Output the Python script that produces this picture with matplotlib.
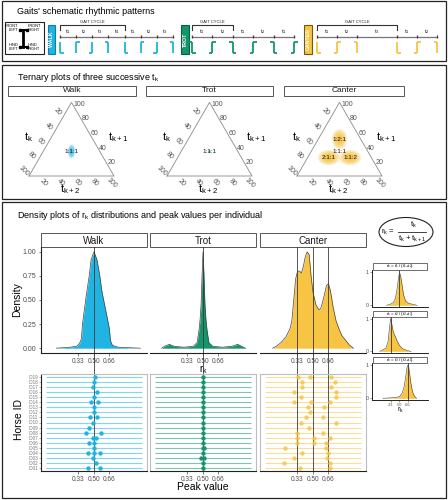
import matplotlib
matplotlib.use("Agg")
import matplotlib.pyplot as plt
from matplotlib.patches import Rectangle, Ellipse
import numpy as np

plt.rcParams["font.family"] = ["Liberation Sans", "DejaVu Sans"]
plt.rcParams["mathtext.default"] = "regular"

W, H = 448, 500

walk_col = "#1FB4E2"
trot_col = "#13966C"
canter_col = "#F7C444"
dark = "#3A3A3A"
grey_txt = "#4D4D4D"

# ---------------- data ----------------
gaits = ["Walk", "Trot", "Canter"]
gait_cols = [walk_col, trot_col, canter_col]

# schematic: interval durations (arbitrary units), labels, footfalls at each boundary
walk_durations = [1, 1, 1, 1, 1, 1, 1]
walk_labels = ["1", "2", "3", "4", "1", "2", "3"]
walk_feet = ["LH", "LF", "RH", "RF", "LH", "LF", "RH", "RF"]
walk_cycle = 4

trot_durations = [1, 1, 1, 1, 1]
trot_labels = ["1", "2", "1", "2", "1"]
trot_feet = ["LH+RF", "RH+LF", "LH+RF", "RH+LF", "LH+RF", "RH+LF"]
trot_cycle = 2

canter_durations = [1, 1, 2, 1, 1]
canter_labels = ["1", "2", "3", "1", "2"]
canter_feet = ["LH", "RH+LF", "RF", "LH", "RH+LF", "RF"]
canter_cycle = 4

# ternary plots: peak compositions (t_k : t_k+1 : t_k+2)
tern_ticks = [20, 40, 60, 80, 100]
walk_tern_peaks = [(1, 1, 1)]
trot_tern_peaks = [(1, 1, 1)]
canter_tern_peaks = [(1, 2, 1), (2, 1, 1), (1, 1, 2)]
walk_tern_labels = [((1, 1, 1), "1:1:1")]
trot_tern_labels = [((1, 1, 1), "1:1:1")]
canter_tern_labels = [((1, 2, 1), "1:2:1"), ((1, 1, 1), "1:1:1"),
                      ((2, 1, 1), "2:1:1"), ((1, 1, 2), "1:1:2")]

# density of r_k (scaled to max 1)
walk_r = [0.11, 0.25, 0.32, 0.35, 0.37, 0.38, 0.40, 0.42, 0.45, 0.47, 0.50, 0.53,
          0.56, 0.58, 0.60, 0.62, 0.64, 0.66, 0.67, 0.69, 0.75, 0.98]
walk_d = [0.00, 0.01, 0.02, 0.05, 0.10, 0.25, 0.40, 0.55, 0.75, 0.92, 1.00, 0.92,
          0.75, 0.60, 0.50, 0.40, 0.30, 0.20, 0.08, 0.03, 0.01, 0.00]

trot_r = [0.07, 0.10, 0.15, 0.20, 0.30, 0.40, 0.44, 0.46, 0.47, 0.48, 0.49, 0.50,
          0.51, 0.52, 0.53, 0.54, 0.56, 0.60, 0.70, 0.80, 0.86, 0.90, 0.94]
trot_d = [0.00, 0.02, 0.04, 0.02, 0.01, 0.02, 0.06, 0.20, 0.30, 0.45, 0.75, 1.00,
          0.75, 0.45, 0.30, 0.20, 0.06, 0.02, 0.01, 0.02, 0.04, 0.02, 0.00]

canter_r = [0.08, 0.12, 0.17, 0.22, 0.26, 0.28, 0.30, 0.32, 0.34, 0.36, 0.38, 0.40,
            0.42, 0.44, 0.46, 0.48, 0.50, 0.53, 0.56, 0.58, 0.61, 0.64, 0.66, 0.68,
            0.71, 0.74, 0.77, 0.80, 0.84, 0.88, 0.92]
canter_d = [0.00, 0.02, 0.06, 0.12, 0.20, 0.28, 0.50, 0.72, 0.80, 0.80, 0.78, 0.85,
            0.95, 1.00, 0.97, 0.75, 0.58, 0.45, 0.40, 0.41, 0.52, 0.65, 0.67, 0.60,
            0.42, 0.28, 0.20, 0.13, 0.08, 0.03, 0.00]

walk_ref = [0.50]
trot_ref = [0.50]
canter_ref = [0.33, 0.50, 0.66]

# peak values per horse
horse_ids = ["ID%02d" % i for i in range(1, 20)]
walk_peak_id = [19, 18, 17, 16, 15, 14, 14, 13, 12, 11, 11, 10, 9, 8, 8, 7, 7,
                6, 6, 5, 4, 4, 4, 3, 2, 1, 1]
walk_peak_val = [0.51, 0.50, 0.485, 0.53, 0.505, 0.47, 0.54, 0.50, 0.50, 0.457,
                 0.53, 0.49, 0.45, 0.42, 0.568, 0.485, 0.52, 0.45, 0.505, 0.505,
                 0.436, 0.505, 0.565, 0.49, 0.52, 0.436, 0.56]
trot_peak_id = [19, 18, 17, 16, 15, 14, 13, 12, 11, 10, 9, 8, 7, 6, 5, 5, 4, 3, 3, 2, 1]
trot_peak_val = [0.50, 0.50, 0.50, 0.50, 0.50, 0.50, 0.50, 0.50, 0.50, 0.50, 0.50,
                 0.50, 0.50, 0.50, 0.495, 0.51, 0.50, 0.48, 0.515, 0.50, 0.50]
canter_peak_id = [19, 19, 19, 18, 18, 17, 17, 16, 16, 15, 15, 14, 14, 14, 13, 13,
                  12, 11, 11, 10, 10, 9, 8, 8, 7, 7, 7, 6, 6, 6, 5, 5, 4, 4, 3, 3,
                  2, 2, 1, 1]
canter_peak_val = [0.343, 0.471, 0.686, 0.387, 0.724, 0.387, 0.686, 0.304, 0.738,
                   0.377, 0.738, 0.308, 0.482, 0.679, 0.443, 0.617, 0.471, 0.429,
                   0.60, 0.373, 0.735, 0.457, 0.336, 0.604, 0.339, 0.506, 0.676,
                   0.336, 0.506, 0.636, 0.21, 0.636, 0.384, 0.654, 0.30, 0.647,
                   0.20, 0.672, 0.370, 0.672]

# canter sub-ratios (small panels)
mini_titles = ["r$_k$ = t$_1$ / (t$_1$+t$_2$)", "r$_k$ = t$_2$ / (t$_2$+t$_3$)",
               "r$_k$ = t$_3$ / (t$_3$+t$_1$)"]
mini1_r = [0.25, 0.32, 0.38, 0.42, 0.45, 0.48, 0.50, 0.52, 0.55, 0.58, 0.62, 0.68, 0.75, 0.84]
mini1_d = [0.00, 0.03, 0.08, 0.20, 0.45, 0.80, 0.97, 0.90, 0.60, 0.30, 0.12, 0.06, 0.03, 0.00]
mini2_r = [0.12, 0.18, 0.24, 0.28, 0.31, 0.33, 0.35, 0.38, 0.42, 0.46, 0.50, 0.56, 0.64, 0.72]
mini2_d = [0.00, 0.05, 0.10, 0.30, 0.75, 1.00, 0.85, 0.60, 0.45, 0.30, 0.18, 0.08, 0.03, 0.00]
mini3_r = [0.18, 0.40, 0.50, 0.55, 0.59, 0.62, 0.65, 0.67, 0.69, 0.72, 0.75, 0.79, 0.83]
mini3_d = [0.00, 0.02, 0.05, 0.15, 0.35, 0.65, 0.95, 1.00, 0.80, 0.45, 0.20, 0.06, 0.00]
mini_ref = [0.50, 0.33, 0.66]

# ---------------- figure ----------------
fig = plt.figure(figsize=(W / 100, H / 100), dpi=100)


def px_axes(x0, y0, x1, y1):
    return fig.add_axes([x0 / W, 1 - y1 / H, (x1 - x0) / W, (y1 - y0) / H])


bg = px_axes(0, 0, W, H)
bg.set_xlim(0, W)
bg.set_ylim(H, 0)
bg.axis("off")

# outer boxes and titles
for y0, y1 in [(1, 61), (65, 199), (202, 498)]:
    bg.add_patch(Rectangle((2, y0), 444, y1 - y0, fill=False, ec="#222", lw=0.9))
bg.text(17, 11, "Gaits' schematic rhythmic patterns", fontsize=6.5, va="center")
bg.text(17, 78, "Ternary plots of three successive t$_k$", fontsize=6.5, va="center")
bg.text(17, 216, "Density plots of r$_k$ distributions and peak values per individual",
        fontsize=6.5, va="center")

# ---- panel 1: schematic ----
bg.add_patch(Rectangle((5, 22), 39, 32, fill=False, ec="#222", lw=0.8))
bg.plot([19.5, 26.5], [29.5, 29.5], color="k", lw=1.4)
bg.plot([19.5, 26.5], [47, 47], color="k", lw=1.4)
bg.plot([23, 23], [29.5, 47], color="k", lw=2.0)
bg.plot([19.5, 26.5, 19.5, 26.5], [29.5, 29.5, 47, 47], "s", color="k", ms=1.6)
for x, y, s, ha in [(18, 28, "FRONT\nLEFT", "right"), (28, 28, "FRONT\nRIGHT", "left"),
                    (18, 47, "HIND\nLEFT", "right"), (28, 47, "HIND\nRIGHT", "left")]:
    bg.text(x, y, s, fontsize=2.8, ha=ha, va="center", linespacing=0.9)

gait_boxes = [(48, 7, "WALK", walk_col, "#0E7FA3"),
              (181, 8, "TROT", trot_col, "#0B5E42"),
              (304, 8, "CANTER", canter_col, "#6B5A10")]
for bx, bw, name, fc, ec in gait_boxes:
    bg.add_patch(Rectangle((bx, 25), bw, 29, fc=fc, ec=ec, lw=0.8))
    bg.text(bx + bw / 2, 39.5, name, rotation=90, color="white", fontsize=3.8,
            ha="center", va="center", fontweight="bold")

schem = [(60, 173, walk_durations, walk_labels, walk_feet, walk_cycle, walk_col),
         (192, 294, trot_durations, trot_labels, trot_feet, trot_cycle, trot_col),
         (317, 437, canter_durations, canter_labels, canter_feet, canter_cycle, canter_col)]
for x0, x1, durs, labs, feet, cyc, col in schem:
    T = sum(durs)
    ppu = (x1 - x0) / T
    m = 6 / ppu
    ax = px_axes(x0 - 6, 17, x1 + 6, 57)
    ax.set_xlim(-m, T + m)
    ax.set_ylim(57, 17)
    ax.axis("off")
    bounds = np.concatenate([[0], np.cumsum(durs)])
    ax.plot([0, T], [36.5, 36.5], color="#777", lw=0.9)
    ax.vlines(bounds, 35.3, 37.7, color="#5A2E2E", lw=0.9)
    mids = (bounds[:-1] + bounds[1:]) / 2
    for mx, lb in zip(mids, labs):
        ax.text(mx, 32, "t$_%s$" % lb, fontsize=4.3, ha="center", va="center", color="#222")
    ax.plot([0, 0, cyc, cyc], [30, 25, 25, 30], color="#333", lw=0.8)
    ax.text(cyc / 2, 22.3, "GAIT CYCLE", fontsize=3.0, ha="center", va="center", color="#222")
    f = 3.5 / ppu
    for bx, code in zip(bounds, feet):
        ax.plot([bx, bx], [42, 53], color=col, lw=1.3, solid_capstyle="butt")
        for limb in code.split("+"):
            y = 53 if limb.endswith("H") else 42
            dx = f if limb.startswith("L") else -f
            ax.plot([bx, bx + dx], [y, y], color=col, lw=1.3, solid_capstyle="butt")

# ---- panel 2: ternary plots ----
def tern_xy(a, b, c):
    s = a + b + c
    return 0.5 * b / s + c / s, np.sqrt(3) / 2 * b / s


strips2 = [(8, 136), (146, 273), (284, 404)]
for (sx0, sx1), g in zip(strips2, gaits):
    bg.add_patch(Rectangle((sx0, 86), sx1 - sx0, 10, fc="white", ec="#555", lw=0.7))
    bg.text((sx0 + sx1) / 2, 91, g, fontsize=6, ha="center", va="center", color="#1A1A1A")

tern_sets = [(29, walk_tern_peaks, walk_tern_labels, walk_col, [(0.09, 0.17)]),
             (167, trot_tern_peaks, trot_tern_labels, trot_col, [(0.03, 0.04)]),
             (297, canter_tern_peaks, canter_tern_labels, "#F5B820",
              [(0.18, 0.24), (0.26, 0.18), (0.26, 0.18)])]
unit = 85
for blx, peaks, labels, col, sizes in tern_sets:
    ax = px_axes(blx - 0.35 * unit, 176 - 1.0 * unit, blx + 1.35 * unit, 176 + 0.22 * unit)
    ax.set_xlim(-0.35, 1.35)
    ax.set_ylim(-0.22, 1.0)
    ax.axis("off")
    corners = [tern_xy(1, 0, 0), tern_xy(0, 1, 0), tern_xy(0, 0, 1), tern_xy(1, 0, 0)]
    ax.plot([c[0] for c in corners], [c[1] for c in corners], color="#8A8A8A", lw=0.6)
    for pk, (w, h) in zip(peaks, sizes):
        px, py = tern_xy(*pk)
        n = 8
        for k in range(n):
            fr = 1 - k / n
            ax.add_patch(Ellipse((px, py), w * fr, h * fr, color=col, alpha=0.2, lw=0))
    for comp, lb in labels:
        px, py = tern_xy(*comp)
        ax.text(px, py, lb, fontsize=4.5, ha="center", va="center", color="#111")
    for v in tern_ticks:
        x, y = tern_xy(v, 100 - v, 0)
        ax.text(x - 0.065, y + 0.06, str(v), fontsize=5, color="#555", rotation=-45,
                ha="center", va="center")
        x, y = tern_xy(0, v, 100 - v)
        ax.text(x + 0.025, y - 0.02, str(v), fontsize=5, color="#555", ha="left", va="center")
        x, y = tern_xy(100 - v, 0, v)
        ax.text(x - 0.03, y - 0.08, str(v), fontsize=5, color="#555", rotation=-45,
                ha="center", va="center")
    ax.text(0.0, 0.46, "t$_k$", fontsize=8, ha="center", va="center")
    ax.text(1.05, 0.46, "t$_{k+1}$", fontsize=8, ha="center", va="center")
    ax.text(0.48, -0.155, "t$_{k+2}$", fontsize=8, ha="center", va="center")

# ---- panel 3: densities and peaks ----
panel_x = [(41, 147), (150, 256), (260, 366)]
dens_r = [walk_r, trot_r, canter_r]
dens_d = [walk_d, trot_d, canter_d]
refs = [walk_ref, trot_ref, canter_ref]
peak_ids = [walk_peak_id, trot_peak_id, canter_peak_id]
peak_vals = [walk_peak_val, trot_peak_val, canter_peak_val]
xt = [0.33, 0.50, 0.66]
xt_lab = ["0.33", "0.50", "0.66"]

for i, g in enumerate(gaits):
    x0, x1 = panel_x[i]
    col = gait_cols[i]
    bg.add_patch(Rectangle((x0, 233), x1 - x0, 14, fc="white", ec="#555", lw=0.7))
    bg.text((x0 + x1) / 2, 240.5, g, fontsize=7, ha="center", va="center", color="#1A1A1A")

    ax = px_axes(x0, 247, x1, 353)
    ax.set_facecolor("none")
    ax.fill_between(dens_r[i], dens_d[i], 0, color=col, lw=0)
    ax.plot(dens_r[i], dens_d[i], color="#444", lw=0.5)
    for v in refs[i]:
        ax.axvline(v, ymin=-0.2, ymax=1, color=dark, lw=0.6, clip_on=False)
    ax.set_xlim(-0.05, 1.05)
    ax.set_ylim(-0.05, 1.05)
    ax.set_xticks(xt, labels=xt_lab)
    for s in ["top", "right"]:
        ax.spines[s].set_visible(False)
    ax.spines["bottom"].set_color("#222")
    ax.spines["bottom"].set_linewidth(0.8)
    ax.tick_params(axis="x", length=1.8, width=0.5, pad=1.5, labelsize=4.7, colors=grey_txt)
    if i == 0:
        ax.set_yticks([0, 0.25, 0.5, 0.75, 1.0], labels=["0.00", "0.25", "0.50", "0.75", "1.00"])
        ax.spines["left"].set_color("#222")
        ax.spines["left"].set_linewidth(0.8)
        ax.tick_params(axis="y", length=1.8, width=0.5, pad=1.5, labelsize=5, colors=grey_txt)
    else:
        ax.spines["left"].set_visible(False)
        ax.set_yticks([])

    ax = px_axes(x0, 374, x1, 471)
    ax.hlines(range(1, 20), 0, 1, color=col, alpha=0.55, lw=0.8)
    ax.scatter(peak_vals[i], peak_ids[i], s=10, color=col, lw=0,
               alpha=0.85 if i == 2 else 1, zorder=3)
    for v in refs[i]:
        ax.axvline(v, color=dark, lw=0.6)
    ax.set_xlim(-0.05, 1.05)
    ax.set_ylim(0.4, 19.6)
    ax.set_xticks(xt, labels=xt_lab)
    for s in ax.spines.values():
        s.set_color("#BDBDBD")
        s.set_linewidth(0.8)
    ax.spines["bottom"].set_color("#222")
    ax.tick_params(axis="x", length=1.8, width=0.5, pad=1.5, labelsize=4.7, colors=grey_txt)
    if i == 0:
        ax.set_yticks(range(1, 20), labels=horse_ids)
        ax.spines["left"].set_color("#222")
        ax.tick_params(axis="y", length=1.2, width=0.4, pad=1, labelsize=3.3, colors="#777")
    else:
        ax.set_yticks([])

bg.text(17, 300, "Density", rotation=90, fontsize=7.5, ha="center", va="center")
bg.text(19, 420, "Horse ID", rotation=90, fontsize=7.5, ha="center", va="center")
bg.text(203, 370, "r$_k$", fontsize=7, ha="center", va="center")
bg.text(203, 487, "Peak value", fontsize=7.5, ha="center", va="center")

# formula
bg.add_patch(Ellipse((406, 232), 54, 29, fill=False, ec="#222", lw=0.8))
bg.text(388, 232, "r$_k$ =", fontsize=5.5, ha="center", va="center")
bg.plot([398, 426], [231.5, 231.5], color="#222", lw=0.6)
bg.text(413, 225, "t$_k$", fontsize=5.5, ha="center", va="center")
bg.text(412, 238.5, "t$_k$ + t$_{k+1}$", fontsize=5.5, ha="center", va="center")

# small canter panels
mini_r = [mini1_r, mini2_r, mini3_r]
mini_d = [mini1_d, mini2_d, mini3_d]
mini_pos = [(270, 307, 263), (317, 353, 311), (363, 400, 357)]
for j, (y0, y1, sy) in enumerate(mini_pos):
    bg.add_patch(Rectangle((373, sy), 54, y0 - sy, fc="white", ec="#555", lw=0.6))
    bg.text(400, sy + (y0 - sy) / 2, mini_titles[j], fontsize=3.2, ha="center", va="center")
    ax = px_axes(372, y0, 428, y1)
    ax.set_facecolor("none")
    ax.fill_between(mini_r[j], mini_d[j], 0, color=canter_col, lw=0)
    ax.plot(mini_r[j], mini_d[j], color="#444", lw=0.4)
    ax.axvline(mini_ref[j], color=dark, lw=0.6)
    ax.set_xlim(-0.03, 1.05)
    ax.set_ylim(-0.05, 1.05)
    for s in ["top", "right"]:
        ax.spines[s].set_visible(False)
    for s in ["left", "bottom"]:
        ax.spines[s].set_color("#222")
        ax.spines[s].set_linewidth(0.7)
    ax.set_yticks([0, 1], labels=["0", "1"])
    ax.tick_params(axis="y", length=1.2, width=0.4, pad=1, labelsize=3.8, colors=grey_txt)
    if j == 2:
        ax.set_xticks(xt, labels=[".33", ".50", ".66"])
        ax.tick_params(axis="x", length=1.2, width=0.4, pad=0.8, labelsize=2.8, colors=grey_txt)
    else:
        ax.set_xticks([])
bg.text(400, 410, "r$_k$", fontsize=5, ha="center", va="center")

fig.savefig("out.png", dpi=100)
